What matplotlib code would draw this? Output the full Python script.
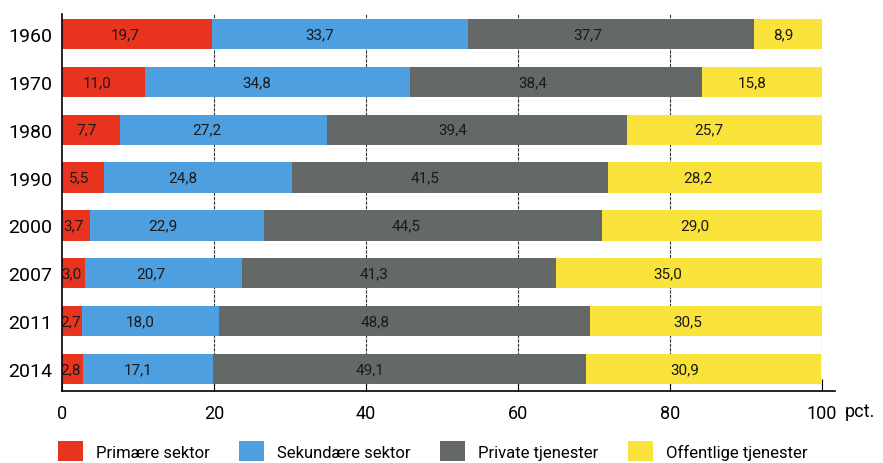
import matplotlib.pyplot as plt

# Data
years = ["1960", "1970", "1980", "1990", "2000", "2007", "2011", "2014"]
primaer = [19.7, 11.0, 7.7, 5.5, 3.7, 3.0, 2.7, 2.8]
sekundaer = [33.7, 34.8, 27.2, 24.8, 22.9, 20.7, 18.0, 17.1]
private = [37.7, 38.4, 39.4, 41.5, 44.5, 41.3, 48.8, 49.1]
offentlige = [8.9, 15.8, 25.7, 28.2, 29.0, 35.0, 30.5, 30.9]

series = [primaer, sekundaer, private, offentlige]
navne = ["Primære sektor", "Sekundære sektor", "Private tjenester", "Offentlige tjenester"]
farver = ["#e8341f", "#4d9fe0", "#646867", "#f9e23a"]

plt.rcParams["font.family"] = ["Roboto", "DejaVu Sans"]

fig = plt.figure(figsize=(8.83, 4.64), dpi=100)
ax = fig.add_axes([0.070, 0.155, 0.861, 0.813])

pos = list(range(len(years)))
venstre = [0.0] * len(years)
for vals, navn, farve in zip(series, navne, farver):
    ax.barh(pos, vals, left=venstre, height=0.63, color=farve, label=navn, zorder=2)
    # etiketter ligger lidt til venstre for midten, som i originalen
    for i, v in enumerate(vals):
        ax.text(venstre[i] + v * 0.42, i, f"{v:.1f}".replace(".", ","),
                ha="center", va="center", fontsize=11, color="#1a1a1a", zorder=3)
    venstre = [a + b for a, b in zip(venstre, vals)]

ax.set_xlim(0, 100)
ax.set_ylim(len(years) - 0.54, -0.42)
ax.set_yticks(pos)
ax.set_yticklabels(years, fontsize=14)
ax.tick_params(axis="y", length=0, pad=7)
ax.set_xticks([0, 20, 40, 60, 80, 100])
ax.tick_params(axis="x", direction="in", length=9, labelsize=13, pad=9)

for x in [20, 40, 60, 80, 100]:
    ax.axvline(x, color="#333333", lw=0.8, ls=(0, (3, 1)), zorder=1)

ax.spines["top"].set_visible(False)
ax.spines["right"].set_visible(False)
ax.spines["left"].set_linewidth(1.2)
ax.spines["bottom"].set_linewidth(1.2)
ax.spines["bottom"].set_bounds(0, 101.7)

fig.text(0.957, 0.112, "pct.", fontsize=13, va="center")

fig.legend(loc="lower left", bbox_to_anchor=(0.0657, 0.004), ncol=4, frameon=False,
           fontsize=12, handlelength=1.5, handleheight=1.44, handletextpad=0.75,
           columnspacing=1.8, borderpad=0, borderaxespad=0)

fig.savefig("out.png", dpi=100)
